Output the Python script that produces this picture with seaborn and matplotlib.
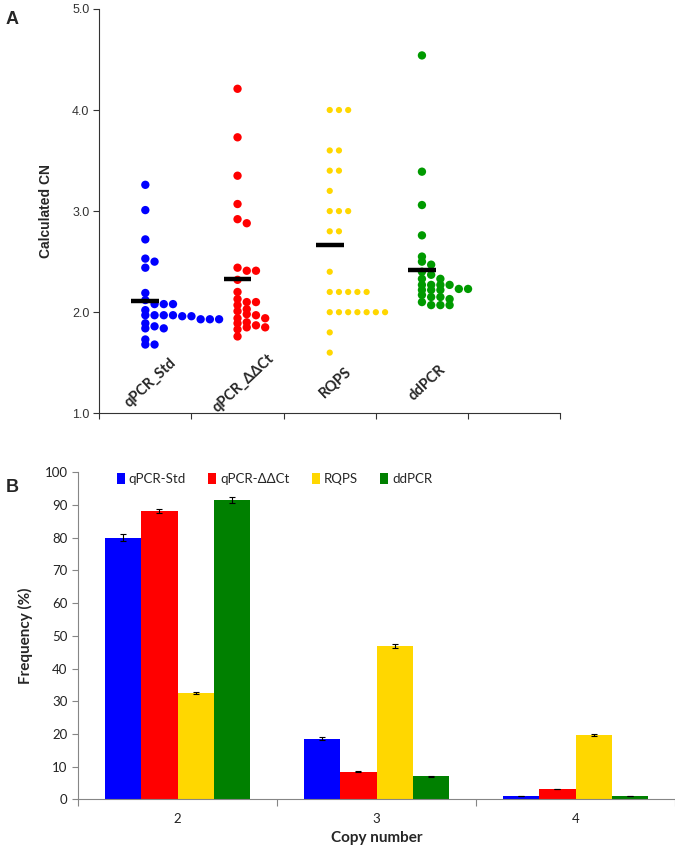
import numpy as np
import pandas as pd
import seaborn as sns
import matplotlib.pyplot as plt

# Panel A - calculated copy number per method (28 samples each)
methods_a = ['qPCR_Std', 'qPCR_ΔΔCt', 'RQPS', 'ddPCR']
cn_qpcr_std = [3.26, 3.01, 2.72, 2.53, 2.50, 2.44, 2.19, 2.12, 2.08, 2.08, 2.08, 2.02,
               1.97, 1.97, 1.97, 1.97, 1.96, 1.96, 1.93, 1.93, 1.93, 1.89, 1.86, 1.84,
               1.84, 1.73, 1.68, 1.68]
cn_qpcr_ddct = [4.21, 3.73, 3.35, 3.07, 2.92, 2.88, 2.44, 2.41, 2.41, 2.32, 2.20, 2.13,
                2.10, 2.10, 2.07, 2.03, 2.01, 1.98, 1.97, 1.94, 1.94, 1.90, 1.89, 1.87,
                1.85, 1.85, 1.83, 1.76]
cn_rqps = [4.0, 4.0, 4.0, 3.6, 3.6, 3.4, 3.4, 3.2, 3.0, 3.0, 3.0, 2.8, 2.8, 2.4,
           2.2, 2.2, 2.2, 2.2, 2.2, 2.0, 2.0, 2.0, 2.0, 2.0, 2.0, 2.0, 1.8, 1.6]
cn_ddpcr = [4.54, 3.39, 3.06, 2.76, 2.55, 2.50, 2.47, 2.40, 2.37, 2.33, 2.33, 2.27,
            2.27, 2.27, 2.27, 2.23, 2.23, 2.22, 2.22, 2.22, 2.17, 2.15, 2.15, 2.13,
            2.10, 2.07, 2.07, 2.07]
colors_a = ['#0000ff', '#ff0000', '#ffd700', '#009a00']

# Panel B - frequency of copy number calls
copy_numbers = ['2', '3', '4']
methods_b = ['qPCR-Std', 'qPCR-ΔΔCt', 'RQPS', 'ddPCR']
freq_std = [80.0, 18.5, 1.0]
freq_ddct = [88.2, 8.5, 3.2]
freq_rqps = [32.5, 47.0, 19.8]
freq_ddpcr = [91.5, 7.0, 1.0]
err_std = [1.0, 0.5, 0.1]
err_ddct = [0.7, 0.2, 0.1]
err_rqps = [0.4, 0.6, 0.3]
err_ddpcr = [1.0, 0.2, 0.1]
colors_b = ['#0000ff', '#ff0000', '#ffd700', '#008000']


def stack_offsets(values, step=0.1, gap=0.045):
    # left-aligned dot stacking: each point goes into the first free column
    values = np.asarray(values)
    cols = []
    offs = np.zeros(len(values))
    for i in np.argsort(-values, kind='stable'):
        k = 0
        while k < len(cols) and any(abs(values[i] - v) < gap for v in cols[k]):
            k += 1
        if k == len(cols):
            cols.append([])
        cols[k].append(values[i])
        offs[i] = k * step
    return offs


sns.set_theme(style='ticks')
plt.rcParams['font.family'] = ['Liberation Sans', 'DejaVu Sans']

fig = plt.figure(figsize=(6.75, 8.5), dpi=100)
ax_a = fig.add_axes([0.147, 0.5138, 0.683, 0.4757])
ax_b = fig.add_axes([0.1156, 0.0596, 0.8844, 0.3848])

# ---- Panel A
rows = []
for i, (name, vals) in enumerate(zip(methods_a, [cn_qpcr_std, cn_qpcr_ddct, cn_rqps, cn_ddpcr])):
    offs = stack_offsets(vals)
    for v, o in zip(vals, offs):
        rows.append({'method': name, 'cn': v, 'x': i + o})
df_a = pd.DataFrame(rows)

for i, name in enumerate(methods_a):
    sub = df_a[df_a['method'] == name]
    sns.scatterplot(data=sub, x='x', y='cn', color=colors_a[i],
                    s=20 if name == 'RQPS' else 36, edgecolor='none', ax=ax_a, zorder=3)

means = df_a.groupby('method', sort=False)['cn'].mean()
for i, name in enumerate(methods_a):
    ax_a.hlines(means[name], i - 0.15, i + 0.15, color='black', lw=3.2, zorder=4)
    ax_a.text(i + 0.06, 1.3, name, rotation=43, ha='center', va='center',
              fontsize=10.5, fontweight='bold', family='Lato')

ax_a.set_xlim(-0.5, 4.5)
ax_a.set_ylim(1.0, 5.0)
ax_a.set_yticks([1, 2, 3, 4, 5])
ax_a.set_yticklabels(['1.0', '2.0', '3.0', '4.0', '5.0'], fontsize=9, color='#333333')
ax_a.set_xticks(np.arange(-0.5, 4.6, 1.0))
ax_a.set_xticklabels([])
ax_a.tick_params(axis='both', direction='out', length=4, width=0.8, color='#333333', pad=3)
ax_a.set_xlabel('')
ax_a.set_ylabel('Calculated CN', fontsize=10, fontweight='bold')
ax_a.yaxis.set_label_coords(-0.1, 0.5)
for side in ['top', 'right']:
    ax_a.spines[side].set_visible(False)
for side in ['left', 'bottom']:
    ax_a.spines[side].set_color('#333333')
    ax_a.spines[side].set_linewidth(0.8)

# ---- Panel B
df_b = pd.DataFrame({
    'copy': copy_numbers * 4,
    'method': np.repeat(methods_b, 3),
    'freq': freq_std + freq_ddct + freq_rqps + freq_ddpcr,
    'err': err_std + err_ddct + err_rqps + err_ddpcr,
})
sns.barplot(data=df_b, x='copy', y='freq', hue='method', palette=colors_b,
            width=0.73, errorbar=None, saturation=1, linewidth=0, ax=ax_b)
for cont, name in zip(ax_b.containers, methods_b):
    sub = df_b[df_b['method'] == name]
    xs = [p.get_x() + p.get_width() / 2 for p in cont]
    ax_b.errorbar(xs, sub['freq'], yerr=sub['err'], fmt='none', ecolor='black',
                  elinewidth=0.8, capsize=2.5, capthick=0.8, zorder=5)

ax_b.set_xlim(-0.5, 2.5)
ax_b.set_ylim(0, 100)
ax_b.set_yticks(np.arange(0, 101, 10))
ax_b.set_yticklabels([str(t) for t in range(0, 101, 10)], fontsize=9.5, family='Lato',
                     color='#222222')
ax_b.set_xticks([0, 1, 2])
ax_b.set_xticklabels(copy_numbers, fontsize=9.5, family='Lato', color='#222222')
ax_b.set_xticks([-0.5, 0.5, 1.5, 2.5], minor=True)
ax_b.tick_params(axis='x', which='major', length=0, pad=10)
ax_b.tick_params(axis='x', which='minor', length=5, width=0.8, color='#868686')
ax_b.tick_params(axis='y', length=4, width=0.8, color='#868686')
ax_b.set_xlabel('Copy number', fontsize=11, fontweight='bold', family='Lato')
ax_b.set_ylabel('Frequency (%)', fontsize=11, fontweight='bold', family='Lato')
ax_b.xaxis.set_label_coords(0.5, -0.098)
ax_b.yaxis.set_label_coords(-0.076, 0.5)
for side in ['top', 'right']:
    ax_b.spines[side].set_visible(False)
for side in ['left', 'bottom']:
    ax_b.spines[side].set_color('#868686')
    ax_b.spines[side].set_linewidth(0.8)

handles, labels = ax_b.get_legend_handles_labels()
ax_b.legend(handles, labels, ncol=4, frameon=False, loc='upper left',
            bbox_to_anchor=(0.045, 1.035), handlelength=0.6, handleheight=0.9,
            handletextpad=0.3, columnspacing=1.7, prop={'family': 'Lato', 'size': 9.5})

fig.text(0.008, 0.9765, 'A', fontsize=13, fontweight='bold', va='center')
fig.text(0.008, 0.426, 'B', fontsize=13, fontweight='bold', va='center')

fig.savefig('out.png', dpi=100)
